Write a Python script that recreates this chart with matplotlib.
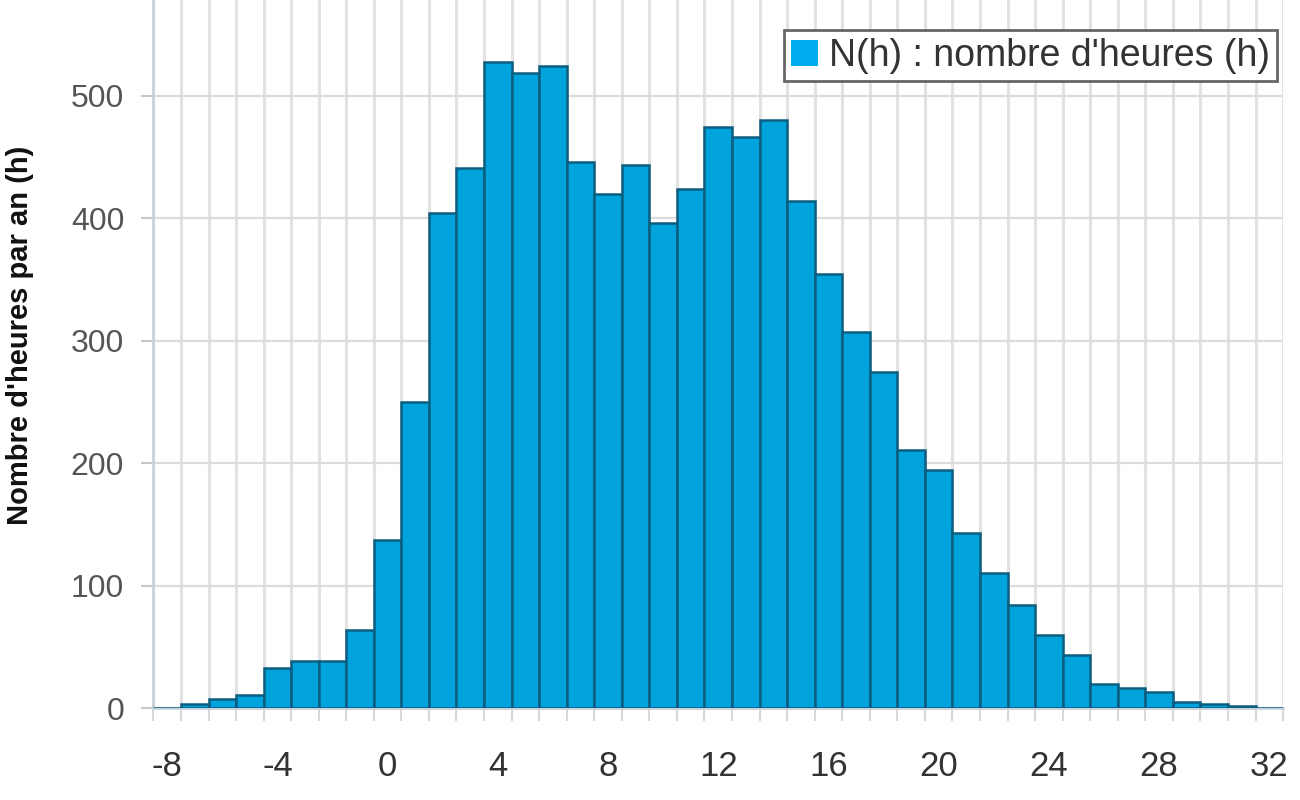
import matplotlib.pyplot as plt
import numpy as np

# Data: hours per year for each temperature class
temperatures = list(range(-8, 33))
hours = [0, 3, 7, 11, 33, 38, 38, 64, 137, 250,
         404, 441, 527, 518, 524, 446, 420, 443, 396, 424,
         474, 466, 480, 414, 354, 307, 274, 211, 194, 143,
         110, 84, 60, 43, 20, 16, 13, 5, 3, 2,
         0]
x_ticks = [-8, -4, 0, 4, 8, 12, 16, 20, 24, 28, 32]
y_ticks = [0, 100, 200, 300, 400, 500]

plt.rcParams['font.family'] = ['Liberation Sans', 'DejaVu Sans']
plt.rcParams['axes.unicode_minus'] = False

fig = plt.figure(figsize=(13, 8), dpi=100)
ax = fig.add_axes([0.118, 0.115, 0.869, 0.885])

ax.bar(temperatures, hours, width=1.0, color='#00a3db', edgecolor='#0b5e80',
       linewidth=1.8, label="N(h) : nombre d'heures (h)", zorder=3)

ax.set_xlim(-8.5, 32.5)
ax.set_ylim(0, 578)

# Gridlines at class boundaries and every 100 h
ax.set_xticks(x_ticks)
ax.set_xticks(np.arange(-8.5, 33, 1), minor=True)
ax.set_yticks(y_ticks)
ax.grid(axis='x', which='minor', color='#e2e2e2', linewidth=2.2)
ax.grid(axis='y', which='major', color='#dcdcdc', linewidth=1.6)
ax.set_axisbelow(True)

ax.tick_params(axis='x', which='major', length=0, pad=30, labelsize=25, labelcolor='#333333')
ax.tick_params(axis='x', which='minor', length=9, width=1.5, color='#d8d8d8')
ax.tick_params(axis='y', which='major', length=9, width=1.5, color='#c8c8c8',
               pad=12, labelsize=23, labelcolor='#555555')

for side in ['top', 'right']:
    ax.spines[side].set_visible(False)
ax.spines['left'].set_color('#c8d2da')
ax.spines['left'].set_linewidth(2)
ax.spines['bottom'].set_color('#c8d2da')
ax.spines['bottom'].set_linewidth(2)

ax.set_ylabel("Nombre d'heures par an (h)", fontsize=21, fontweight='bold', color='#111111')
ax.yaxis.set_label_coords(-0.106, 0.527)

leg = ax.legend(loc='upper right', bbox_to_anchor=(0.995, 0.957), fontsize=27,
                fancybox=False, framealpha=1, edgecolor='#666666',
                handlelength=0.7, handleheight=0.7, handletextpad=0.3,
                borderpad=0.2, borderaxespad=0)
leg.get_frame().set_linewidth(2)
leg.legend_handles[0].set_color('#00aeef')
leg.legend_handles[0].set_edgecolor('none')
for t in leg.get_texts():
    t.set_color('#333333')

fig.savefig('out.png', dpi=100)
